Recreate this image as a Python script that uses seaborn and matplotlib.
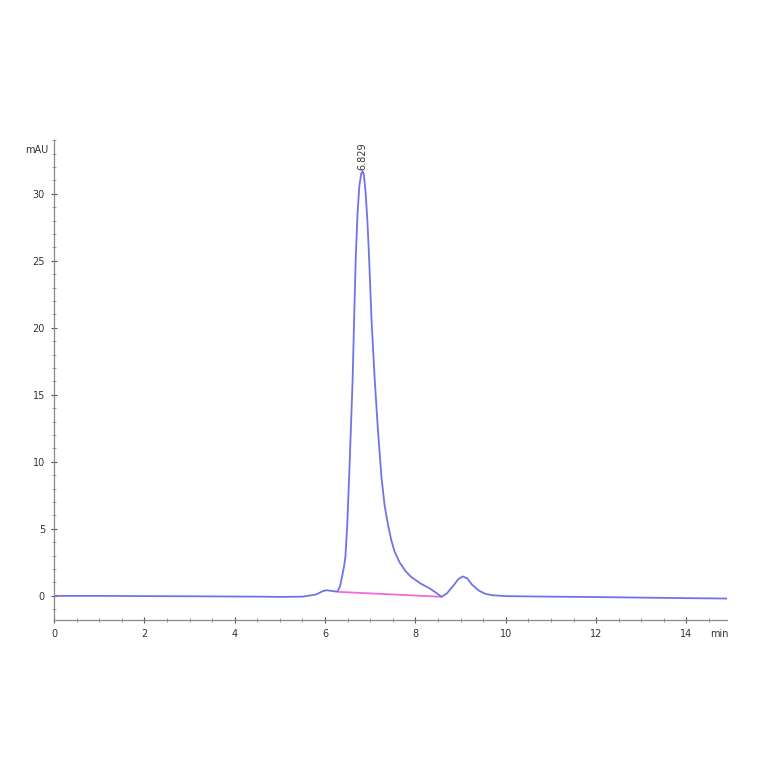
import numpy as np
import pandas as pd
import matplotlib
matplotlib.use("Agg")
import matplotlib.pyplot as plt
import seaborn as sns
from matplotlib.ticker import MultipleLocator

# retention time (min) and detector signal (mAU)
time_min = [0.0, 1.0, 2.0, 3.0, 4.0, 4.6, 5.0, 5.5, 5.8, 5.95, 6.03, 6.12, 6.25,
            6.28, 6.33, 6.38, 6.42, 6.45, 6.49, 6.53, 6.57, 6.61, 6.65, 6.68,
            6.72, 6.76, 6.80, 6.83, 6.86, 6.90, 6.94, 6.97, 7.03, 7.10, 7.17,
            7.25, 7.32, 7.40, 7.47, 7.54, 7.65, 7.78, 7.91, 8.10, 8.32, 8.45,
            8.58, 8.70, 8.85, 8.95, 9.05, 9.15, 9.25, 9.40, 9.55, 9.70, 10.0,
            11.0, 12.0, 13.0, 14.0, 14.9]
signal_mau = [0.0, 0.0, -0.02, -0.03, -0.05, -0.06, -0.08, -0.06, 0.1, 0.35,
              0.42, 0.38, 0.32, 0.35, 0.7, 1.5, 2.2, 2.9, 5.2, 8.6, 12.3, 16.1,
              21.5, 25.3, 28.6, 30.6, 31.5, 31.7, 31.4, 30.0, 27.8, 25.6, 20.5,
              16.1, 12.4, 8.8, 6.7, 5.2, 4.1, 3.3, 2.5, 1.85, 1.4, 0.95, 0.55,
              0.25, -0.07, 0.2, 0.8, 1.25, 1.45, 1.3, 0.85, 0.4, 0.15, 0.05,
              -0.02, -0.06, -0.09, -0.13, -0.17, -0.2]

# integration baseline of the main peak
base_time = [6.28, 8.58]
base_signal = [0.3, -0.07]

peak_rt = 6.829
peak_height = 31.7

df = pd.DataFrame({"time": time_min, "signal": signal_mau})
df_base = pd.DataFrame({"time": base_time, "signal": base_signal})

sns.set_style("white", {"xtick.bottom": True, "ytick.left": True})
plt.rcParams["font.family"] = ["DejaVu Sans"]

fig = plt.figure(figsize=(7.64, 7.64), dpi=100)
ax = fig.add_axes([0.0707, 0.1885, 0.881, 0.628])

sns.lineplot(data=df_base, x="time", y="signal", ax=ax, color="#f06ad8", linewidth=1.3)
sns.lineplot(data=df, x="time", y="signal", ax=ax, color="#7373e8", linewidth=1.3)

ax.text(peak_rt, peak_height + 0.1, f"{peak_rt:.3f}", rotation=90, ha="center",
        va="bottom", fontsize=7, color="#333333")

ax.set_xlim(0, 14.9)
ax.set_ylim(-1.8, 34)
ax.xaxis.set_major_locator(MultipleLocator(2))
ax.xaxis.set_minor_locator(MultipleLocator(0.5))
ax.yaxis.set_major_locator(MultipleLocator(5))
ax.yaxis.set_minor_locator(MultipleLocator(1))
ax.tick_params(which="both", bottom=True, left=True)
ax.tick_params(which="major", direction="inout", length=5, width=0.8,
               labelsize=7, colors="#555555", pad=4)
ax.tick_params(which="minor", direction="inout", length=3, width=0.6, colors="#888888")
ax.tick_params(axis="both", labelcolor="#333333")

ax.set_xlabel("")
ax.set_ylabel("")
for side in ["top", "right"]:
    ax.spines[side].set_visible(False)
for side in ["left", "bottom"]:
    ax.spines[side].set_color("#888888")
    ax.spines[side].set_linewidth(0.9)

fig.text(0.048, 0.804, "mAU", fontsize=7, color="#333333", ha="center", va="center")
fig.text(0.941, 0.170, "min", fontsize=7, color="#333333", ha="center", va="center")

fig.savefig("out.png", dpi=100)
